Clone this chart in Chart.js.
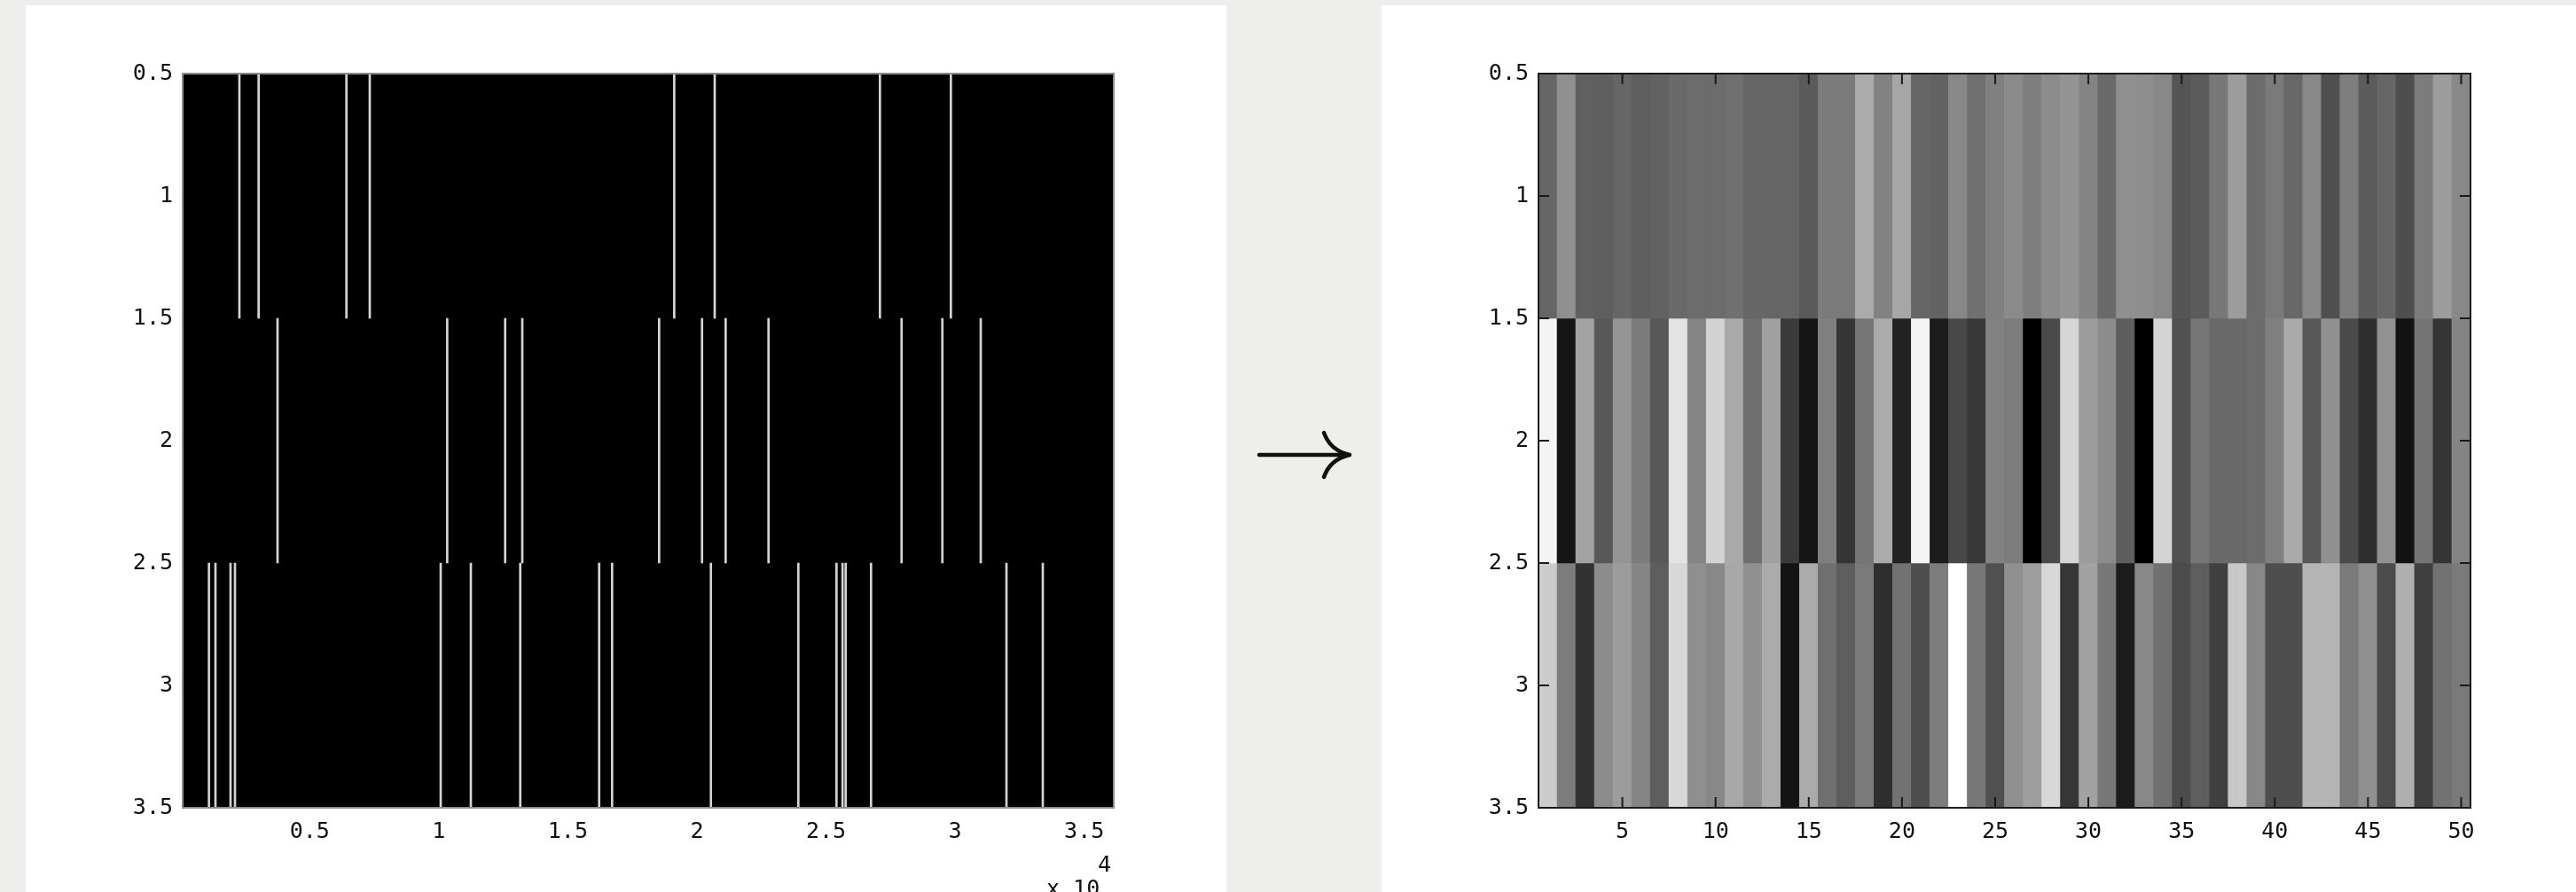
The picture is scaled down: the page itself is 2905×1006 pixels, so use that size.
<!DOCTYPE html>
<html>
<head>
<meta charset="utf-8">
<script src="https://cdn.jsdelivr.net/npm/chart.js@4.4.0/dist/chart.umd.min.js"></script>
<style>
  html, body { margin: 0; padding: 0; }
  body { width: 2905px; height: 1006px; background: #eeeeec; position: relative; overflow: hidden; }
  .card { position: absolute; top: 6px; height: 1000px; background: #fff; }
  #leftCard { left: 29px; width: 1354px; }
  #rightCard { left: 1558px; width: 1347px; }
  canvas { position: absolute; left: 0; top: 0; }
  #arrow { position: absolute; left: 1400px; top: 470px; }
</style>
</head>
<body>
<div class="card" id="leftCard"><canvas id="chartEvents" width="1354" height="1000"></canvas></div>
<div class="card" id="rightCard"><canvas id="chartCells" width="1347" height="1000"></canvas></div>
<svg id="arrow" width="140" height="90" viewBox="1400 470 140 90">
  <path d="M1420 513 L1520 513 M1493 488 Q1500 508 1522 513 M1493 538 Q1500 518 1522 513"
        fill="none" stroke="#111" stroke-width="4.5" stroke-linecap="round"/>
</svg>
<script>
// left panel: event positions per row (sample index)
const row1Events = [2277, 3022, 6423, 7327, 19120, 20688, 27088, 29836];
const row2Events = [3754, 10326, 12571, 13235, 18535, 20197, 21112, 22773, 27926, 29506, 30993];
const row3Events = [1098, 1350, 1934, 2106, 10075, 11243, 13155, 16212, 16714, 20541, 23928,
  25405, 25640, 25760, 26744, 31989, 33397];
const eventTicks = [5000, 10000, 15000, 20000, 25000, 30000, 35000];

// right panel: 3 x 50 grey levels (0-255)
const cellCols = Array.from({length: 50}, (_, i) => i + 1);
const row1Grey = [102,144,96,95,102,94,98,106,109,108,112,102,102,102,90,123,123,171,130,166,
  102,99,136,112,128,138,126,140,148,132,106,144,142,136,85,92,120,156,108,122,
  104,136,80,126,92,102,78,124,156,136];
const row2Grey = [244,21,163,88,149,123,88,227,133,211,169,110,160,58,22,128,53,117,171,34,
  244,28,72,56,130,124,0,74,214,156,140,94,0,212,80,118,106,106,108,128,
  170,88,144,74,46,146,18,116,52,132];
const row3Grey = [204,124,50,140,156,133,94,216,143,136,168,144,171,20,171,112,94,123,46,114,
  78,124,255,120,80,144,158,216,54,162,120,28,136,112,76,94,64,200,136,78,
  78,180,180,122,144,76,176,64,114,122];
const cellTicks = [5, 10, 15, 20, 25, 30, 35, 40, 45, 50];
const rowTicks = [0.5, 1, 1.5, 2, 2.5, 3, 3.5];

Chart.defaults.font.family = "'DejaVu Sans Mono', monospace";
Chart.defaults.font.size = 25;
Chart.defaults.color = '#111';
Chart.defaults.animation = false;

const grey = v => `rgb(${v},${v},${v})`;

const axisFrame = {
  id: 'axisFrame',
  beforeDatasetsDraw(chart, args, opts) {
    if (!opts.fill) return;
    const a = chart.chartArea, ctx = chart.ctx;
    ctx.save();
    ctx.fillStyle = opts.fill;
    ctx.fillRect(a.left, a.top, a.right - a.left, a.bottom - a.top);
    ctx.restore();
  },
  afterDatasetsDraw(chart, args, opts) {
    const a = chart.chartArea, ctx = chart.ctx;
    ctx.save();
    ctx.strokeStyle = opts.color;
    ctx.lineWidth = 2;
    if (opts.ticks) {
      const len = 12;
      ctx.beginPath();
      chart.scales.x.ticks.forEach(t => {
        const px = chart.scales.x.getPixelForValue(t.value);
        ctx.moveTo(px, a.bottom); ctx.lineTo(px, a.bottom - len);
        ctx.moveTo(px, a.top); ctx.lineTo(px, a.top + len);
      });
      chart.scales.y.ticks.forEach(t => {
        const py = chart.scales.y.getPixelForValue(t.value);
        ctx.moveTo(a.left, py); ctx.lineTo(a.left + len, py);
        ctx.moveTo(a.right, py); ctx.lineTo(a.right - len, py);
      });
      ctx.stroke();
    }
    ctx.strokeRect(a.left, a.top, a.right - a.left, a.bottom - a.top);
    ctx.restore();
  }
};

const exponentLabel = {
  id: 'exponentLabel',
  afterDraw(chart) {
    const a = chart.chartArea, ctx = chart.ctx;
    ctx.save();
    ctx.fillStyle = '#111';
    ctx.font = "25px 'DejaVu Sans Mono', monospace";
    ctx.textAlign = 'left';
    ctx.textBaseline = 'alphabetic';
    ctx.fillText('x 10', a.right - 76, 1004);
    ctx.fillText('4', a.right - 18, 977);
    ctx.restore();
  }
};

function rowAxis(width) {
  return {
    type: 'linear', reverse: true, min: 0.5, max: 3.5,
    grid: { display: false }, border: { display: false },
    afterBuildTicks: s => { s.ticks = rowTicks.map(v => ({ value: v })); },
    afterFit: s => { s.width = width; },
    ticks: { padding: 3, callback: v => String(v) }
  };
}

const eventRows = [row1Events, row2Events, row3Events];
new Chart(document.getElementById('chartEvents'), {
  type: 'bar',
  data: {
    datasets: eventRows.map((ev, r) => ({
      data: ev.map(x => ({ x: x, y: [r + 0.5, r + 1.5] })),
      backgroundColor: '#d4d4d4',
      borderWidth: 0,
      barThickness: 2,
      grouped: false
    }))
  },
  options: {
    responsive: false,
    layout: { padding: { left: 77, top: 77, right: 127, bottom: 0 } },
    plugins: { legend: { display: false }, tooltip: { enabled: false },
      axisFrame: { fill: '#000', color: '#8c8c8c', ticks: false } },
    scales: {
      x: {
        type: 'linear', min: 80, max: 36145, offset: false,
        grid: { display: false, offset: false }, border: { display: false },
        afterBuildTicks: s => { s.ticks = eventTicks.map(v => ({ value: v })); },
        afterFit: s => { s.height = 95; },
        ticks: { padding: 4, maxRotation: 0, callback: v => String(v / 10000) }
      },
      y: rowAxis(100)
    }
  },
  plugins: [axisFrame, exponentLabel]
});

const greyRows = [row1Grey, row2Grey, row3Grey];
new Chart(document.getElementById('chartCells'), {
  type: 'bar',
  data: {
    datasets: greyRows.map((g, r) => ({
      data: cellCols.map(c => ({ x: c, y: [r + 0.5, r + 1.5] })),
      backgroundColor: g.map(grey),
      borderWidth: 0,
      barPercentage: 1,
      categoryPercentage: 1,
      grouped: false
    }))
  },
  options: {
    responsive: false,
    layout: { padding: { left: 77, top: 77, right: 119, bottom: 0 } },
    plugins: { legend: { display: false }, tooltip: { enabled: false },
      axisFrame: { fill: null, color: '#1a1a1a', ticks: true } },
    scales: {
      x: {
        type: 'linear', min: 0.5, max: 50.5, offset: false,
        grid: { display: false, offset: false }, border: { display: false },
        afterBuildTicks: s => { s.ticks = cellTicks.map(v => ({ value: v })); },
        afterFit: s => { s.height = 95; },
        ticks: { padding: 4, maxRotation: 0 }
      },
      y: rowAxis(100)
    }
  },
  plugins: [axisFrame]
});
</script>
</body>
</html>
